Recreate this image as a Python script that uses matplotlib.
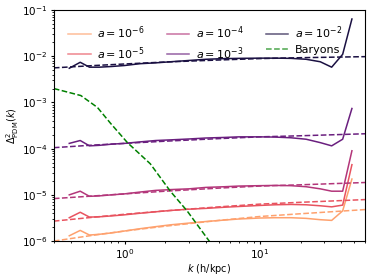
import numpy as np
import matplotlib
matplotlib.use("Agg")
import matplotlib.pyplot as plt

# measured power spectra (solid) at each scale factor
k = [0.39, 0.47, 0.55, 0.65, 0.8, 1.0, 1.3, 1.7, 2.2, 3.0, 4.0, 5.5,
     7.0, 10.0, 13.0, 17.0, 22.0, 28.0, 34.0, 41.0, 48.0]
p_a6 = [1.3e-6, 1.7e-6, 1.35e-6, 1.4e-6, 1.5e-6, 1.65e-6, 1.85e-6, 2.05e-6, 2.25e-6, 2.45e-6,
        2.65e-6, 2.85e-6, 3.0e-6, 3.15e-6, 3.2e-6, 3.2e-6, 3.1e-6, 2.9e-6, 2.8e-6, 4.5e-6, 2.2e-5]
p_a5 = [3.2e-6, 4.2e-6, 3.3e-6, 3.35e-6, 3.5e-6, 3.7e-6, 4.0e-6, 4.3e-6, 4.6e-6, 4.9e-6,
        5.1e-6, 5.4e-6, 5.6e-6, 5.9e-6, 6.1e-6, 6.2e-6, 6.1e-6, 5.8e-6, 5.5e-6, 6.0e-6, 4.5e-5]
p_a4 = [1.0e-5, 1.2e-5, 9.3e-6, 9.5e-6, 1.0e-5, 1.05e-5, 1.15e-5, 1.25e-5, 1.3e-5, 1.35e-5,
        1.45e-5, 1.5e-5, 1.55e-5, 1.58e-5, 1.6e-5, 1.58e-5, 1.5e-5, 1.35e-5, 1.2e-5, 1.2e-5, 9.0e-5]
p_a3 = [1.3e-4, 1.5e-4, 1.15e-4, 1.18e-4, 1.25e-4, 1.3e-4, 1.4e-4, 1.5e-4, 1.55e-4, 1.62e-4,
        1.7e-4, 1.75e-4, 1.8e-4, 1.8e-4, 1.78e-4, 1.72e-4, 1.6e-4, 1.35e-4, 1.15e-4, 1.6e-4, 7.4e-4]
p_a2 = [5.5e-3, 7.4e-3, 5.8e-3, 5.8e-3, 6.0e-3, 6.3e-3, 6.9e-3, 7.2e-3, 7.6e-3, 8.1e-3,
        8.6e-3, 8.9e-3, 9.0e-3, 9.1e-3, 9.1e-3, 9.0e-3, 8.6e-3, 7.6e-3, 5.8e-3, 1.1e-2, 6.4e-2]

# linear theory (dashed)
k_lin = [0.3, 0.6, 1.0, 2.0, 5.0, 10.0, 20.0, 60.0]
l_a6 = [1.0e-6, 1.35e-6, 1.65e-6, 2.1e-6, 2.8e-6, 3.4e-6, 3.9e-6, 4.8e-6]
l_a5 = [2.7e-6, 3.3e-6, 3.8e-6, 4.5e-6, 5.5e-6, 6.3e-6, 6.9e-6, 7.9e-6]
l_a4 = [8.3e-6, 9.5e-6, 1.05e-5, 1.2e-5, 1.4e-5, 1.55e-5, 1.65e-5, 1.85e-5]
l_a3 = [1.05e-4, 1.2e-4, 1.3e-4, 1.45e-4, 1.65e-4, 1.8e-4, 1.9e-4, 2.1e-4]
l_a2 = [5.6e-3, 6.3e-3, 6.8e-3, 7.5e-3, 8.3e-3, 8.9e-3, 9.3e-3, 9.8e-3]

# baryons
k_b = [0.3, 0.475, 0.63, 0.79, 1.05, 1.55, 2.18, 2.9, 4.28, 5.5]
p_b = [2.0e-3, 1.41e-3, 7.8e-4, 3.5e-4, 1.35e-4, 4.7e-5, 1.2e-5, 4.5e-6, 9.5e-7, 3.0e-7]

labels = [r'$a = 10^{-6}$', r'$a = 10^{-5}$', r'$a = 10^{-4}$', r'$a = 10^{-3}$', r'$a = 10^{-2}$']
colors = ['#fea16e', '#e8535f', '#b3367a', '#6a1f7f', '#1a1042']
meas = [p_a6, p_a5, p_a4, p_a3, p_a2]
lin = [l_a6, l_a5, l_a4, l_a3, l_a2]

fig = plt.figure(figsize=(3.74, 2.79), dpi=100)
ax = fig.add_axes([0.144, 0.136, 0.832, 0.828])

for lab, c, m, l in zip(labels, colors, meas, lin):
    ax.plot(k, m, color=c, lw=1.1, label=lab)
    ax.plot(k_lin, l, color=c, lw=1.1, ls='--')
ax.plot(k_b, p_b, color='green', lw=1.1, ls='--', label='Baryons')

ax.set_xscale('log')
ax.set_yscale('log')
ax.set_xlim(0.3, 60)
ax.set_ylim(1e-6, 1e-1)
ax.set_xlabel(r'$k$ (h/kpc)', fontsize=7, labelpad=1)
ax.set_ylabel(r'$\Delta^2_{\rm PDM}(k)$', fontsize=7, labelpad=1)
ax.tick_params(labelsize=7.5, length=2.5, pad=2)
ax.tick_params(which='minor', length=1.5)
leg = ax.legend(ncol=3, loc='upper left', fontsize=8, frameon=False,
                handlelength=2.0, handletextpad=0.6, columnspacing=2.0,
                labelspacing=0.35, borderaxespad=0.9)
for h in leg.get_lines():
    h.set_alpha(0.7)

fig.savefig('out.png', dpi=100)
